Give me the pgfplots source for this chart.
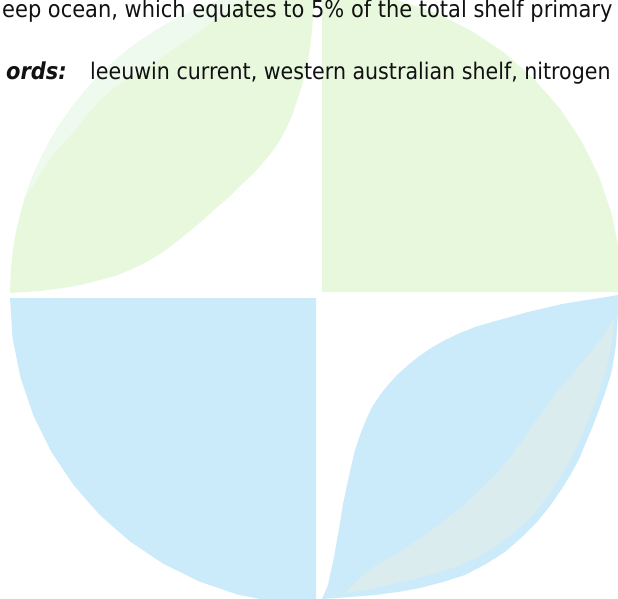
\documentclass[border=0pt]{standalone}
\usepackage{pgfplots}
\pgfplotsset{compat=1.18}
\usepackage{fontspec}
\setmainfont{DejaVu Sans Condensed}
\definecolor{lgreen}{RGB}{232,248,221}
\definecolor{lstripe}{RGB}{238,250,238}
\definecolor{lblue}{RGB}{204,235,250}
\definecolor{lgray}{RGB}{219,236,238}
\definecolor{ink}{RGB}{17,17,17}
\begin{document}
\begin{tikzpicture}
\path[use as bounding box] (0,0) rectangle (618bp,599bp);
\clip (0,0) rectangle (618bp,599bp);
\begin{axis}[at={(0,0)}, anchor=south west, width=618bp, height=599bp, scale only axis,
  xmin=0, xmax=618, ymin=0, ymax=599, y dir=reverse, axis lines=none, clip=true]
% top-right quarter
\addplot[draw=none, fill=lgreen] coordinates {
 (322,292) (322,-10) (359.4,-7.4) (398.2,0.3) (435.6,13.0) (471,30.5) (503.9,52.4)
 (533.5,78.5) (559.6,108.1) (581.5,141) (599,176.4) (611.7,213.8) (619.4,252.6) (622,292)} -- cycle;
% bottom-left quarter
\addplot[draw=none, fill=lblue] coordinates {
 (316,298) (10,298) (12.6,338.1) (20.5,377.5) (33.4,415.5) (51.1,451.5) (73.4,484.9)
 (99.9,515.1) (130.1,541.6) (163.5,563.9) (199.5,581.6) (237.5,594.5) (276.9,602.4)
 (317,605) (316,605)} -- cycle;
% top-left leaf
\addplot[draw=none, fill=lgreen] coordinates {
 (10,293) (10.7,271.9) (12.6,251.8) (15.9,231.9) (20.5,212.3) (26.3,193) (33.4,174.1)
 (41.8,155.8) (51.3,138) (61.9,120.9) (73.6,104.5) (86.4,88.9) (100.2,74.2) (114.9,60.4)
 (130.5,47.6) (146.9,35.9) (164,25.3) (181.8,15.8) (200.1,7.4) (219,0.3) (238.3,-5.5)
 (264.5,-11.3) (290,-15) (316,-16)
 (315,-5) (314,0) (313,20) (311,40) (309,55) (306,70) (303,82) (298,98) (293,113)
 (287,127) (280,140) (272,152) (262,164) (252,175) (240,186) (228,198) (215,209)
 (203,220) (190,231) (175,243) (160,254) (145,263) (130,270) (115,276) (100,280)
 (85,284) (70,287) (55,289) (40,291) (25,292)} -- cycle;
% highlight stripe
\addplot[draw=none, fill=lstripe] coordinates {
 (24,200) (26.3,193) (33.4,174.1) (41.8,155.8) (51.3,138) (61.9,120.9) (73.6,104.5)
 (86.4,88.9) (100.2,74.2) (114.9,60.4) (130.5,47.6) (146.9,35.9) (164,25.3) (181.8,15.8)
 (200.1,7.4) (219,0.3) (238.3,-5.5) (270,-12)
 (250,0) (230,10) (208,25) (187,40) (158,60) (130,78) (114,88) (100,100) (88,114)
 (77,128) (66,140) (55,152) (45,166) (37,180) (30,190)} -- cycle;
% bottom-right leaf
\addplot[draw=none, fill=lblue] coordinates {
 (618,295) (618,312) (617,330) (616,344) (614,358) (611,374) (606,390) (600,407)
 (594,423) (587,440) (580,457) (571,474) (561,490) (550,506) (537,522) (522,537)
 (505,552) (486,564) (465,575) (443,582) (420,588) (398,592) (375,595) (350,597) (322,599)
 (325,592) (328,585) (331,571) (334,557) (337,540) (340,523) (343,504) (347,485)
 (351,467) (355,450) (360,435) (366,420) (372,407) (380,395) (388,385) (397,375)
 (407,366) (418,357) (431,348) (445,340) (460,333) (475,327) (492,322) (510,317)
 (528,312) (545,308) (562,304) (580,301) (600,298)} -- cycle;
% grey band
\addplot[draw=none, fill=lgray] coordinates {
 (614,318) (613,335) (610,352) (606,370) (600,388) (594,406) (587,423) (580,440)
 (572,457) (562,474) (552,490) (541,505) (528,520) (512,534) (495,547) (476,558)
 (455,567) (433,574) (410,580) (392,584) (375,588) (360,591) (345,593)
 (358,580) (368,571) (380,563) (395,555) (410,545) (428,533) (445,520) (463,506)
 (480,490) (497,473) (512,455) (524,438) (535,422) (546,407) (557,392) (569,378)
 (580,365) (590,353) (600,340) (608,329)} -- cycle;
\end{axis}
\node[anchor=base west, text=ink, inner sep=0pt, font=\fontsize{23.3bp}{28bp}\selectfont]
  at (2bp,581bp) {eep ocean, which equates to 5\% of the total shelf primary};
\node[anchor=base west, text=ink, inner sep=0pt, font=\fontsize{23.3bp}{28bp}\selectfont]
  at (6bp,519bp) {\textbf{\textit{ords:}}};
\node[anchor=base west, text=ink, inner sep=0pt, font=\fontsize{22.9bp}{28bp}\selectfont]
  at (90bp,519bp) {leeuwin current, western australian shelf, nitrogen};
\end{tikzpicture}
\end{document}
